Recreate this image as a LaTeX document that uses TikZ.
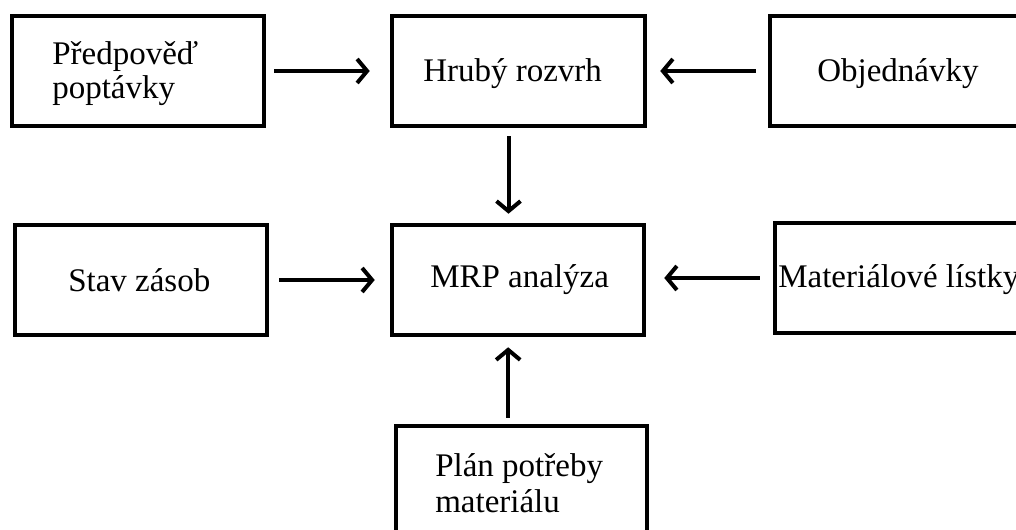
\documentclass[tikz,border=0pt]{standalone}
\usepackage{fontspec}
\setmainfont{Liberation Serif}
\usetikzlibrary{arrows.meta}
\begin{document}
\begin{tikzpicture}[x=0.75pt,y=-0.75pt,
  box/.style={draw=black,line width=3.4pt,rectangle,minimum height=82.5pt,inner sep=0pt},
  txt/.style={anchor=base west,inner sep=0pt,font=\fontsize{24.75pt}{25.5pt}\selectfont},
  arr/.style={line width=3pt,-{Straight Barb[length=7.5pt,width=18pt,line width=3pt]}}]
\useasboundingbox (0,0) rectangle (1016,530);
\fill[white] (0,0) rectangle (1016,530);
\clip (0,0) rectangle (1016,530);

% boxes
\node[box,minimum width=189pt] (b1) at (138,71) {};
\node[box,minimum width=189.75pt] (b2) at (518.5,71) {};
\node[box,minimum width=202.5pt] (b3) at (905,71) {};
\node[box,minimum width=189pt] (b4) at (141,280) {};
\node[box,minimum width=189pt] (b5) at (518,280) {};
\node[box,minimum width=198.75pt] (b6) at (907.5,278) {};
\node[box,minimum width=188.25pt,minimum height=100.5pt] (b7) at (521.5,493) {};

% labels
\node[txt] (t1a) at (52,65) {Předpověď};
\node[txt] (t1b) at (52,99) {poptávky};
\node[txt] (t2) at (423,82) {Hrubý rozvrh};
\node[txt] (t3) at (817,82) {Objednávky};
\node[txt] (t4) at (68,292) {Stav zásob};
\node[txt] (t5) at (430,288) {MRP analýza};
\node[txt] (t6) at (778,288) {Materiálové lístky};
\node[txt] (t7a) at (435,476) {Plán potřeby};
\node[txt] (t7b) at (435,512) {materiálu};

% connectors
\draw[arr,shorten <=6pt,shorten >=15pt] (b1) -- (b2);
\draw[arr,shorten <=9pt,shorten >=9.75pt] (b3) -- (b2);
\draw[arr,shorten <=6pt,shorten >=6.75pt] ([xshift=-7.5pt]b2.south) -- ([xshift=-7.5pt]b2.south |- b5.north);
\draw[arr,shorten <=7.5pt,shorten >=11.25pt] (b4) -- (b5);
\draw[arr,shorten <=9.75pt,shorten >=13.5pt] (b6.west) -- (b6.west -| b5.east);
\draw[arr,shorten <=4.5pt,shorten >=7.5pt] ([xshift=-10pt]b7.north) -- ([xshift=-10pt]b7.north |- b5.south);
\end{tikzpicture}
\end{document}
